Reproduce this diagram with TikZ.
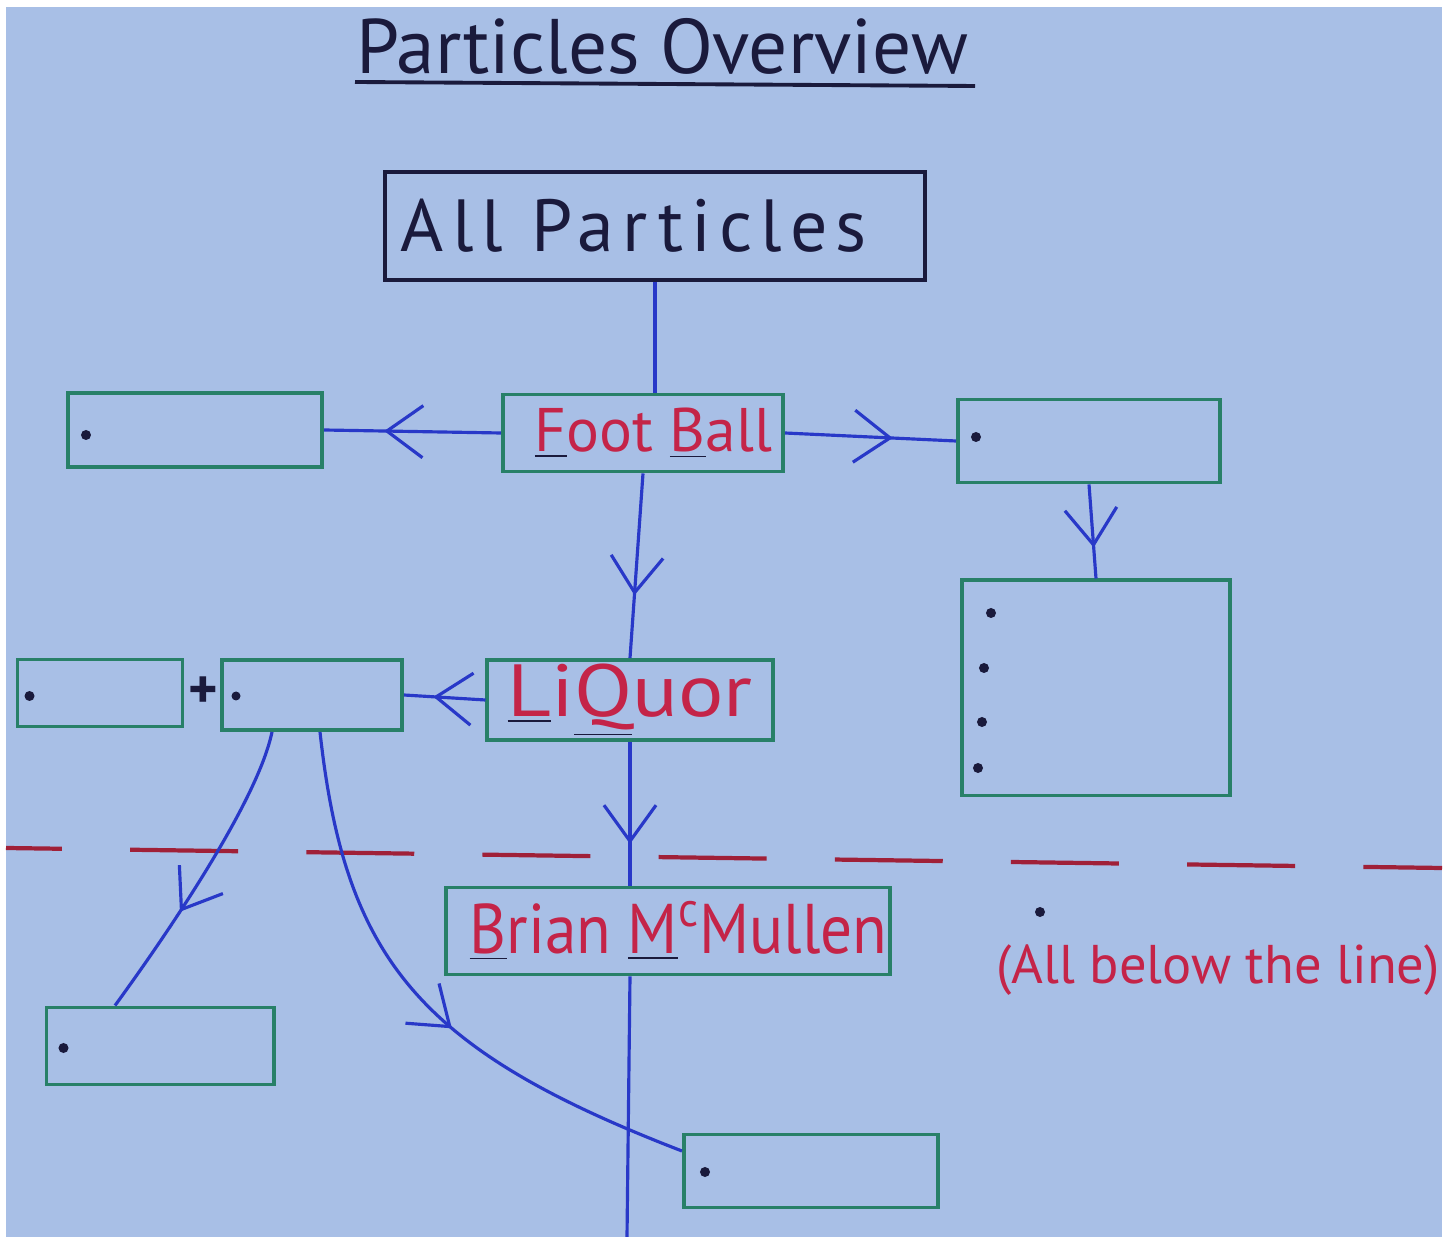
\documentclass[tikz,border=0pt]{standalone}
\usepackage{fontspec}
\setmainfont{PT Sans}
\usetikzlibrary{arrows.meta,positioning,calc,decorations.markings}
\definecolor{paper}{RGB}{168,191,230}
\definecolor{boxgreen}{RGB}{40,128,104}
\definecolor{penblue}{RGB}{40,56,200}
\definecolor{penred}{RGB}{196,36,72}
\definecolor{cutred}{RGB}{160,32,56}
\definecolor{ink}{RGB}{26,26,60}
\newcommand{\keyletter}[1]{{\color{ink}\underline{\textcolor{penred}{#1}}}}
\tikzset{
  pvbox/.style={rectangle, draw=boxgreen, line width=1.1pt, inner sep=0pt},
  pvhead/.style={pvbox, draw=ink, text=ink, font=\fontsize{21}{23}\selectfont},
  pvname/.style={pvbox, text=penred},
  pvdot/.style={fill=ink},
  pvarrow/.style={draw, color=penblue, line width=0.9pt},
  pvmid/.style={pvarrow, postaction={decorate, decoration={markings,
      mark=at position #1 with {\arrow{Straight Barb[length=3.6mm,width=5.2mm,line width=0.9pt]}}}}},
  pvcut/.style={draw=cutred, line width=1.2pt, dash pattern=on 30.7pt off 19.4pt, dash phase=14.8pt},
}

\begin{document}
\begin{tikzpicture}[x=0.01cm, y=-0.01cm]
  \useasboundingbox (0,0) rectangle (1448,1237);
  \fill[white] (0,0) rectangle (1448,1237);
  \fill[paper] (6,7) rectangle (1442,1237);

  \node[text=ink, font=\fontsize{22}{24}\selectfont] (title) at (662,46) {Particles Overview};
  \coordinate (ulL) at (355,82); \coordinate (ulR) at (975,86);
  \draw[ink, line width=1.1pt] (ulL) -- (ulR);

  \node (all) [pvhead, minimum width=5.4cm, minimum height=1.08cm] at (655,226) {\addfontfeatures{LetterSpace=11}All Particles\kern12pt};
  \node (foot) [pvname, minimum width=2.8cm, minimum height=0.77cm, font=\fontsize{17.5}{19}\selectfont] at (643,433) {\hspace{6pt}\keyletter{F}oot \keyletter{B}all};
  \node (left1) [pvbox, minimum width=2.54cm, minimum height=0.74cm] at (195,430) {};
  \node (right1) [pvbox, minimum width=2.62cm, minimum height=0.83cm] at (1089,441) {};
  \node (rbig) [pvbox, minimum width=2.68cm, minimum height=2.15cm] at (1096,688) {};
  \node (liquor) [pvname, minimum width=2.85cm, minimum height=0.8cm, font=\fontsize{21}{22}\selectfont] at (630,700) {\scalebox{1.15}[1]{\keyletter{L}i\keyletter{Q}uor}};
  \node (lp1) [pvbox, minimum width=1.65cm, minimum height=0.67cm] at (100,693) {};
  \node (plus) [text=ink, font=\fontsize{16}{16}\selectfont\bfseries] at (203,693) {+};
  \node (lp2) [pvbox, minimum width=1.8cm, minimum height=0.7cm] at (312,695) {};
  \node (brian) [pvname, minimum width=4.43cm, minimum height=0.87cm, font=\fontsize{20}{22}\selectfont] at (668,931) {\hspace{6pt}\scalebox{0.9}[1]{\keyletter{B}rian \keyletter{M}\textsuperscript{c}Mullen}};
  \node (note) [text=penred, font=\fontsize{15.5}{17}\selectfont] at (1218,970) {(All below the line)};
  \node (bl) [pvbox, minimum width=2.27cm, minimum height=0.77cm] at (160,1046) {};
  \node (br) [pvbox, minimum width=2.54cm, minimum height=0.73cm] at (811,1171) {};

  \fill[pvdot] ($(left1.west)+(20,5)$) circle (0.05cm);
  \fill[pvdot] ($(right1.west)+(20,-4)$) circle (0.05cm);
  \foreach \dx/\dy in {31/-75,24/-20,22/34,18/80}
    \fill[pvdot] ($(rbig.west)+(\dx,\dy)$) circle (0.05cm);
  \fill[pvdot] ($(lp1.west)+(14,3)$) circle (0.05cm);
  \fill[pvdot] ($(lp2.west)+(16,1)$) circle (0.045cm);
  \fill[pvdot] ($(bl.west)+(19,2)$) circle (0.05cm);
  \fill[pvdot] ($(br.west)+(23,1)$) circle (0.05cm);
  \fill[pvdot] ($(note)+(-178,-58)$) circle (0.05cm);

  \coordinate (cutL) at (6,848); \coordinate (cutR) at (1442,868);
  \draw[pvcut] (cutL) -- (cutR);

  \draw[pvarrow] (all.south) -- (all.south |- foot.north);
  \draw[pvmid=0.66] (foot.west) -- (left1.east);
  \draw[pvmid=0.63] (foot.east) -- (right1.west);
  \draw[pvmid=0.66] (foot.south) -- (liquor.north);
  \draw[pvmid=0.67] (right1.south) -- (rbig.north);
  \draw[pvmid=0.64] (liquor.west) -- (lp2.east);
  \draw[pvmid=0.71] (liquor.south) -- (brian.north -| liquor.south);
  \coordinate (edge) at (627,1237);
  \draw[pvarrow] (brian.south -| liquor.south) -- (edge);
  \draw[pvmid=0.64] ($(lp2.south)+(-40,0)$) .. controls (258,800) and (170,930) .. ($(bl.north)+(-45,0)$);
  \draw[pvmid=0.56] ($(lp2.south)+(8,0)$) .. controls (345,960) and (420,1050) .. ($(br.west)+(0,-20)$);
\end{tikzpicture}
\end{document}
